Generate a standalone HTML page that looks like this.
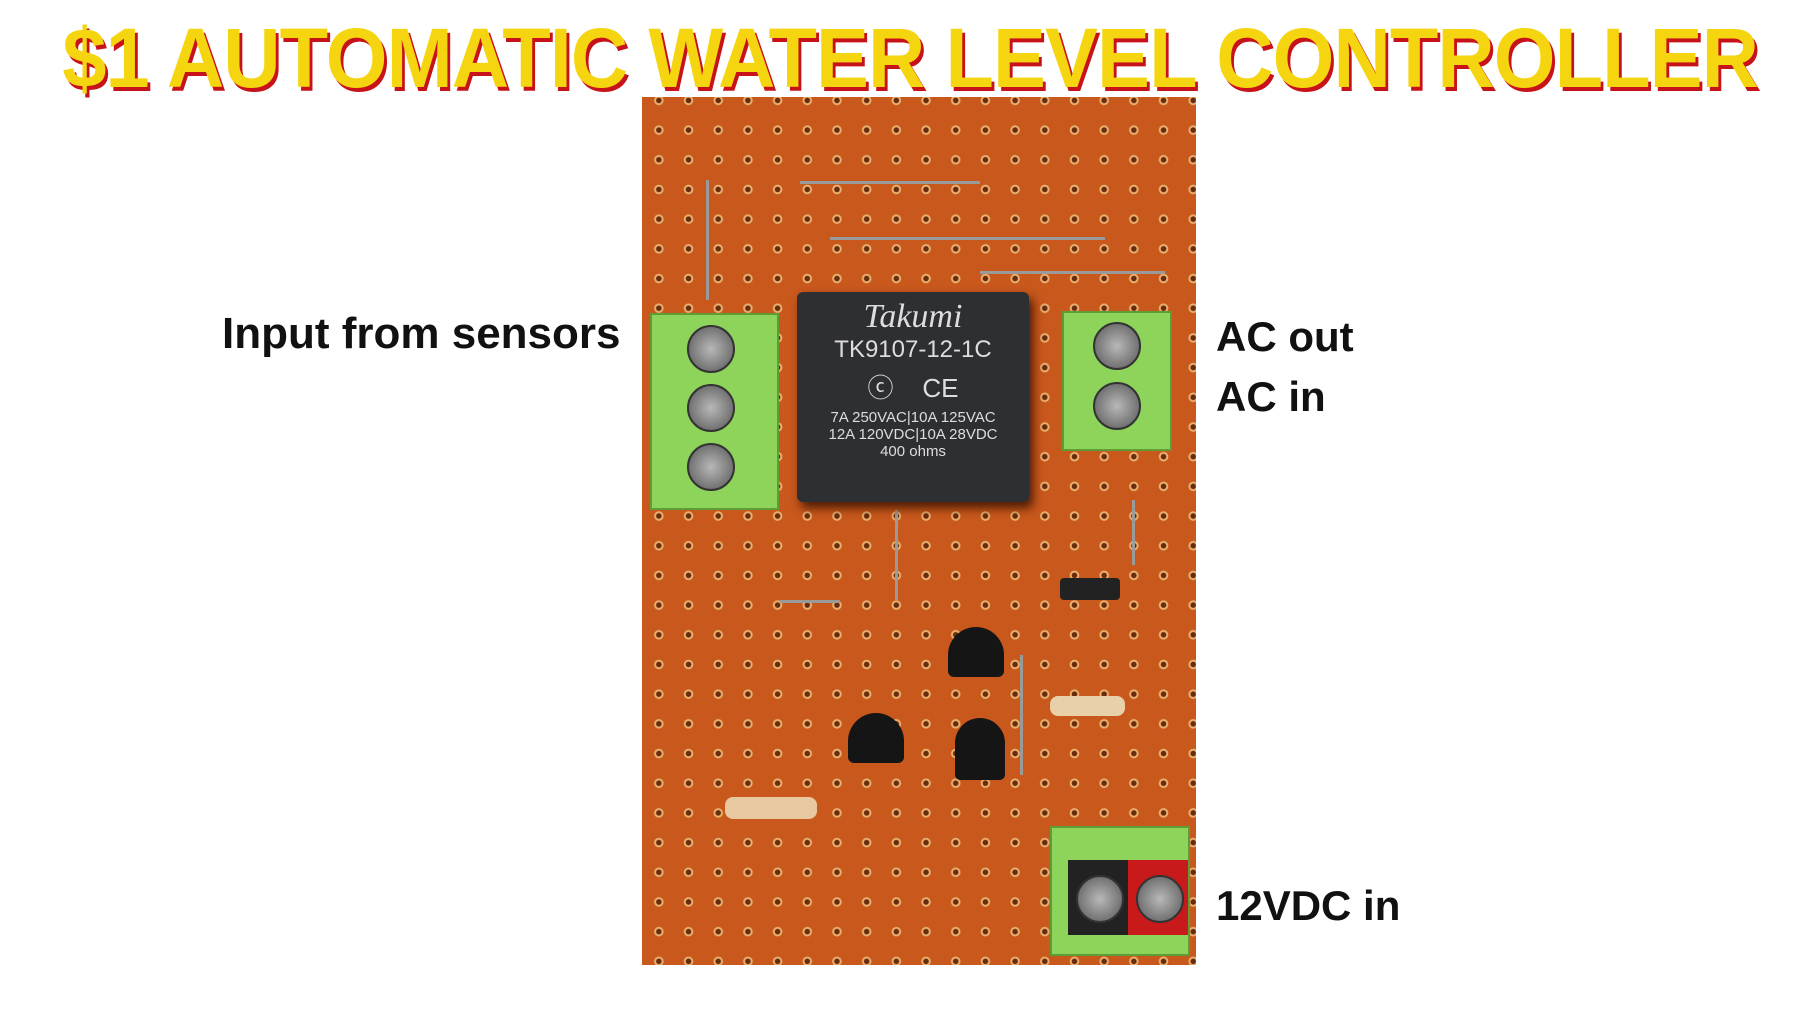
<!DOCTYPE html>
<html><head><style>
body{margin:0;width:1820px;height:1024px;background:#fff;position:relative;overflow:hidden;font-family:"Liberation Sans",sans-serif}
.t{position:absolute;left:0;width:1820px;top:10px;text-align:center}
.t span{display:inline-block;font-weight:bold;font-size:84px;color:#f5d50f;text-shadow:3px 4px 0 #c8121a;transform:scaleX(0.945);white-space:nowrap;letter-spacing:-1px}
.board{position:absolute;left:642px;top:97px;width:554px;height:868px;background-color:#c8581c;
background-image:radial-gradient(circle,#6a2a0c 0 2.5px,#e8b070 3px 4.5px,transparent 5px);
background-size:29.7px 29.7px;background-position:2px 137px}
.lbl{position:absolute;font-weight:bold;font-size:44px;color:#111;transform-origin:left}
.relay{position:absolute;left:797px;top:292px;width:232px;height:210px;background:#2e2f33;border-radius:6px;color:#ddd;text-align:center;box-shadow:4px 6px 10px #4a1a05}
.term{position:absolute;background:#8fd45a;border:2px solid #5e9c36}
.screw{position:absolute;width:44px;height:44px;border-radius:50%;background:radial-gradient(circle,#b8b8b8,#555);border:2px solid #333}
.wire{position:absolute;background:#9a9a9a}
.tr{position:absolute;width:56px;height:50px;background:#151515;border-radius:28px 28px 6px 6px}
</style></head><body>
<div class="t"><span>$1 AUTOMATIC WATER LEVEL CONTROLLER</span></div>
<div class="board"></div>
<div class="wire" style="left:706px;top:180px;width:3px;height:120px"></div>
<div class="wire" style="left:800px;top:181px;width:180px;height:3px"></div>
<div class="wire" style="left:830px;top:237px;width:275px;height:3px"></div>
<div class="wire" style="left:980px;top:271px;width:185px;height:3px"></div>
<div class="wire" style="left:895px;top:510px;width:3px;height:90px"></div>
<div class="wire" style="left:1132px;top:500px;width:3px;height:65px"></div>
<div class="wire" style="left:1020px;top:655px;width:3px;height:120px"></div>
<div class="wire" style="left:780px;top:600px;width:60px;height:3px"></div>
<div class="tr" style="left:948px;top:627px"></div>
<div class="tr" style="left:848px;top:713px"></div>
<div class="tr" style="left:955px;top:718px;width:50px;height:62px"></div>
<div style="position:absolute;left:1060px;top:578px;width:60px;height:22px;background:#222;border-radius:4px"></div>
<div style="position:absolute;left:1050px;top:696px;width:75px;height:20px;background:#e8d0a8;border-radius:8px"></div>
<div style="position:absolute;left:725px;top:797px;width:80px;height:22px;background:#e8c8a0;border-radius:8px;border-left:12px solid transparent"></div>
<div class="term" style="left:650px;top:313px;width:125px;height:193px"></div>
<div class="screw" style="left:687px;top:325px"></div><div class="screw" style="left:687px;top:384px"></div><div class="screw" style="left:687px;top:443px"></div>
<div class="term" style="left:1062px;top:311px;width:106px;height:136px"></div>
<div class="screw" style="left:1093px;top:322px"></div><div class="screw" style="left:1093px;top:382px"></div>
<div class="term" style="left:1050px;top:826px;width:136px;height:126px"></div>
<div style="position:absolute;left:1128px;top:860px;width:60px;height:75px;background:#c81a1a"></div>
<div style="position:absolute;left:1068px;top:860px;width:60px;height:75px;background:#222"></div>
<div class="screw" style="left:1076px;top:875px"></div><div class="screw" style="left:1136px;top:875px"></div>
<div class="relay">
<div style="font-family:'Liberation Serif',serif;font-style:italic;font-size:34px;margin-top:6px">Takumi</div>
<div style="font-size:24px">TK9107-12-1C</div>
<div style="font-size:26px;margin:4px 0">ⓒ &nbsp;&nbsp; CE</div>
<div style="font-size:15px">7A 250VAC|10A 125VAC<br>12A 120VDC|10A 28VDC<br>400 ohms</div>
</div>
<div class="lbl" style="left:222px;top:309px">Input from sensors</div>
<div class="lbl" style="left:1216px;top:313px;font-size:42px">AC out</div>
<div class="lbl" style="left:1216px;top:373px;font-size:42px">AC in</div>
<div class="lbl" style="left:1216px;top:882px;font-size:42px">12VDC in</div>
</body></html>
